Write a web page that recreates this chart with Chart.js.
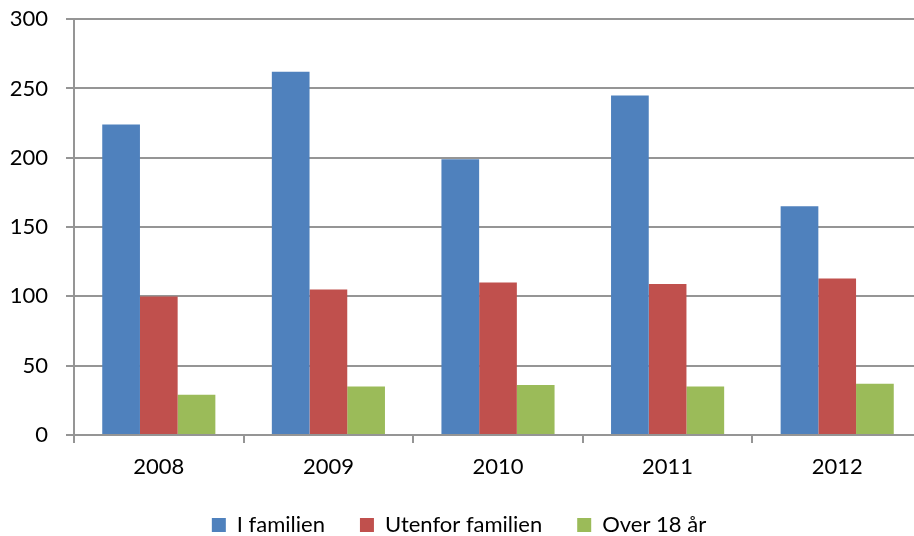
<!DOCTYPE html>
<html><head><meta charset="utf-8">
<script src="https://cdn.jsdelivr.net/npm/chart.js@4"></script>
<style>
html,body{margin:0;padding:0;overflow:hidden;background:#fff;width:914px;height:536px}
#wrap{position:absolute;left:-10px;top:-12px;width:940px;height:558px}
</style></head>
<body><div id="wrap"><canvas id="c" width="940" height="558"></canvas></div>
<script>
const years = ['2008', '2009', '2010', '2011', '2012'];
const iFamilien = [224, 262, 199, 245, 165];
const utenforFamilien = [100, 105, 110, 109, 113];
const over18 = [29, 35, 36, 35, 37];
const seriesNames = ['I familien', 'Utenfor familien', 'Over 18 år'];
const yMin = 0, yMax = 300, yStep = 50;

function draw() {
  Chart.defaults.font.family = 'Lato, "Open Sans", sans-serif';
  Chart.defaults.font.size = 22;
  Chart.defaults.color = '#000';
  const gridCol = '#959595';
  new Chart(document.getElementById('c'), {
    type: 'bar',
    data: {
      labels: years,
      datasets: [
        {label: seriesNames[0], data: iFamilien, backgroundColor: '#4F81BD'},
        {label: seriesNames[1], data: utenforFamilien, backgroundColor: '#C0504D'},
        {label: seriesNames[2], data: over18, backgroundColor: '#9BBB59'}
      ]
    },
    options: {
      responsive: false,
      animation: false,
      devicePixelRatio: 1,
      datasets: {bar: {categoryPercentage: 0.667, barPercentage: 1.0}},
      layout: {padding: {left: 6, right: 8, top: 6, bottom: 0}},
      plugins: {
        tooltip: {enabled: false},
        legend: {
          position: 'bottom',
          labels: {boxWidth: 14, boxHeight: 14, padding: 35, color: '#000'}
        }
      },
      scales: {
        x: {
          grid: {drawOnChartArea: false, drawTicks: true, tickLength: 8, color: gridCol, lineWidth: 2, offset: true},
          border: {color: gridCol, width: 2},
          ticks: {padding: 11, color: '#000'},
          afterFit: (s) => { s.height = 44; }
        },
        y: {
          min: yMin, max: yMax,
          ticks: {stepSize: yStep, padding: 18, color: '#000'},
          grid: {color: gridCol, lineWidth: 2, tickLength: 8},
          border: {color: gridCol, width: 2},
          afterFit: (s) => { s.width = 78; }
        }
      }
    }
  });
}
if (document.fonts && document.fonts.load) {
  document.fonts.load('22px Lato').then(draw, draw);
} else { draw(); }
</script>
</body></html>
